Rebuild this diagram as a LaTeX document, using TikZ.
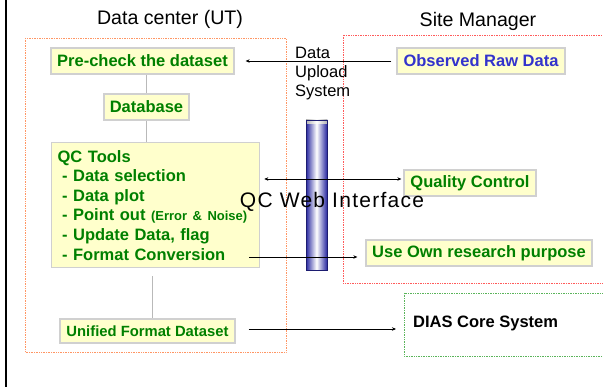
\documentclass[tikz,border=0pt]{standalone}
\usepackage{fontspec}
\setmainfont{Liberation Sans}
\usetikzlibrary{arrows.meta}

\definecolor{kastenfill}{RGB}{255,255,204}
\definecolor{kastenrand}{RGB}{208,208,208}
\definecolor{schrgruen}{RGB}{0,128,0}
\definecolor{schrblau}{RGB}{51,51,204}
\definecolor{rahmenorange}{RGB}{255,150,100}
\definecolor{rahmenrot}{RGB}{255,90,90}
\definecolor{rahmengruen}{RGB}{90,180,90}
\definecolor{rohrblau}{RGB}{40,40,160}

\tikzset{
	kasten/.style={draw=kastenrand, line width=1.3pt, fill=kastenfill,
		inner sep=0pt, text=schrgruen,
		font=\fontsize{16.5}{19.6}\selectfont\bfseries},
	rahmen/.style={densely dotted, line width=0.7pt},
	verbinder/.style={draw=gray!55, line width=0.7pt},
	pfeil/.style={line width=0.8pt, -{Stealth[length=4pt,width=3.5pt]}},
	doppelpfeil/.style={line width=0.8pt,
		{Stealth[length=4pt,width=3.5pt]}-{Stealth[length=4pt,width=3.5pt]}},
}

\begin{document}
\begin{tikzpicture}[x=1pt, y=-1pt]
	\useasboundingbox (0,0) rectangle (603,387);
	% linker Rand
	\draw[line width=2.2pt] (6,0) -- (6,387);
	% Rahmen
	\draw[rahmen, draw=rahmenorange] (25,38) rectangle (286,352);
	\draw[rahmen, draw=rahmenrot] (343,35) rectangle (606,283);
	\draw[rahmen, draw=rahmengruen] (404,293) rectangle (606,356);
	% Ueberschriften
	\node (dc) at (170,19) {\fontsize{19.6}{22}\selectfont Data center (UT)};
	\node (sm) at (478,21) {\fontsize{19.6}{22}\selectfont Site Manager};

	% Rohr
	\shade[left color=rohrblau, right color=rohrblau, middle color=white]
	(306,120) rectangle (327,270);
	\shade[left color=gray!60, right color=gray!60, middle color=white]
	(306,120) rectangle (327,124);
	\draw[rohrblau!70!black, line width=0.6pt] (306,120) rectangle (327,270);

	% Kaesten Data center
	\node[kasten, minimum width=183, minimum height=26] (precheck) at (142.5,61)
	{Pre-check the dataset};
	\node[kasten, minimum width=85, minimum height=26] (datenbank) at (146.5,107)
	{Database};
	\node[kasten, anchor=north west, minimum width=208, minimum height=125,
		text width=196, align=left, inner xsep=6pt] (qctools) at (51,142)
	{QC Tools\\
		\hspace*{4.5pt}- Data selection\\
		\hspace*{4.5pt}- Data plot\\
		\hspace*{4.5pt}- Point out {\fontsize{13}{19.6}\selectfont (Error \& Noise)}\\
		\hspace*{4.5pt}- Update Data, flag\\
		\hspace*{4.5pt}- Format Conversion};
	\node[kasten, minimum width=175, minimum height=24,
		font=\fontsize{14.8}{17}\selectfont\bfseries] (unified) at (147.5,331)
	{Unified Format Dataset};

	% Kaesten Site Manager
	\node[kasten, text=schrblau, minimum width=168, minimum height=26]
	(rawdata) at (481,61) {Observed Raw Data};
	\node[kasten, minimum width=132, minimum height=26] (qualctrl) at (470,183)
	{Quality Control};
	\node[kasten, minimum width=226, minimum height=26] (nutzung) at (479,253)
	{Use Own research purpose};
	\node[anchor=west, inner sep=0pt, font=\fontsize{16.5}{19}\selectfont\bfseries]
	(dias) at (413,323) {DIAS Core System};

	% Beschriftungen
	\node[anchor=north west, align=left, inner sep=0pt,
		font=\fontsize{16.5}{19}\selectfont] (upload) at (295,47)
	{Data\\Upload\\System};
	\node (qcweb) at (332,202)
	{\fontsize{21}{23}\selectfont\addfontfeature{LetterSpace=6}QC Web Interface};

	% Verbindungen
	\draw[verbinder] (datenbank.north |- precheck.south) -- (datenbank.north);
	\draw[verbinder] (datenbank.south) -- (datenbank.south |- qctools.north);
	\coordinate (uo) at ([xshift=4.5pt]unified.north);
	\draw[verbinder, shorten <=8pt] (uo |- qctools.south) -- (uo);

	% Pfeile
	\draw[pfeil, shorten <=5pt, shorten >=11pt] (rawdata.west) -- (precheck.east);
	\coordinate (qcl) at ([yshift=4pt]qualctrl.west);
	\draw[doppelpfeil, shorten <=4pt, shorten >=2pt] (qctools.east |- qcl) -- (qcl);
	\coordinate (fc) at (249,257);
	\draw[pfeil, shorten >=8pt] (fc) -- (fc -| nutzung.west);
	\coordinate (uf) at ([xshift=13pt,yshift=2pt]unified.east);
	\draw[pfeil, shorten >=17pt] (uf) -- (uf -| dias.west);
\end{tikzpicture}
\end{document}
